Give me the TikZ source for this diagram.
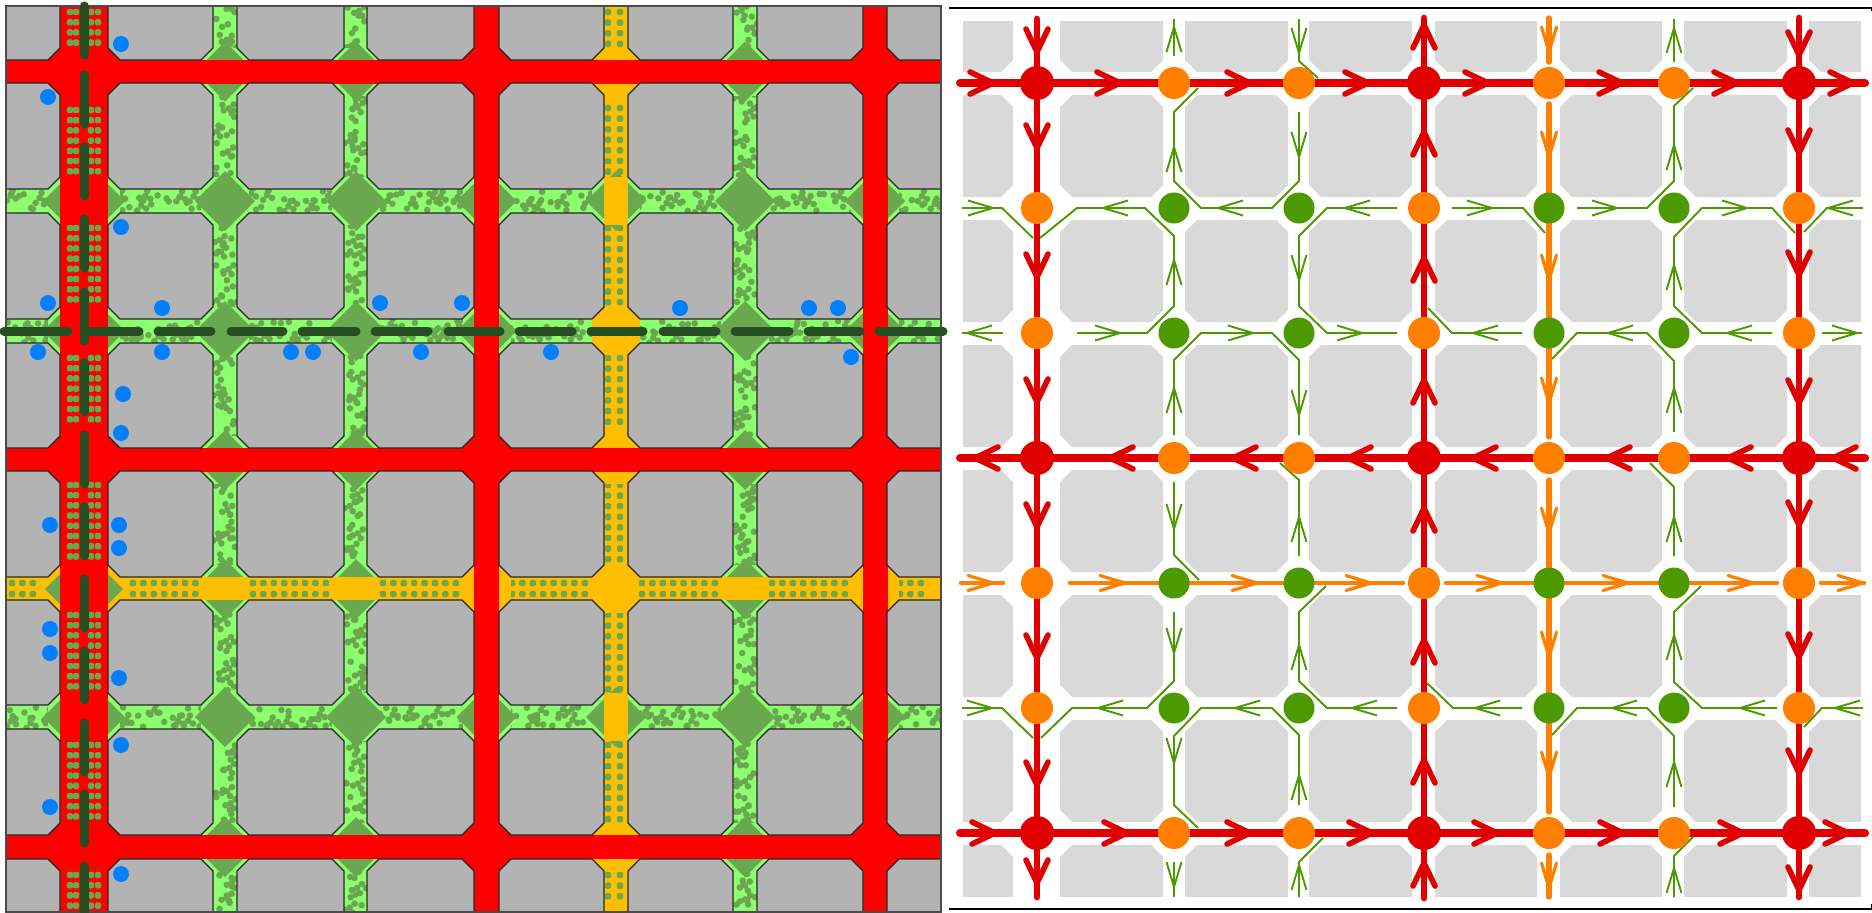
\documentclass[tikz,border=0pt]{standalone}
\usetikzlibrary{backgrounds}
\pgfdeclarelayer{back}
\pgfdeclarelayer{conn}
\pgfsetlayers{back,conn,main}
\definecolor{lgreen}{HTML}{8CFF6E}
\definecolor{dgreen}{HTML}{6AA84F}
\definecolor{dashg}{HTML}{274E23}
\definecolor{yroad}{HTML}{FFBF00}
\definecolor{blockA}{HTML}{B3B3B3}
\definecolor{blockB}{HTML}{D9D9D9}
\definecolor{bluept}{HTML}{0080FF}
\definecolor{cred}{HTML}{E00000}
\definecolor{corange}{HTML}{FF8000}
\definecolor{cgreen}{HTML}{4C9900}
\tikzset{
  redlineH/.style={draw=cred,line width=8pt,line cap=round,line join=round},
  redlineV/.style={draw=cred,line width=6.8pt,line cap=round,line join=round},
  redbarb/.style={draw=cred,line width=5.6pt,line cap=round,line join=round},
  orangeV/.style={draw=corange,line width=5.4pt,line cap=round,line join=round},
  orangeH/.style={draw=corange,line width=4.6pt,line cap=round,line join=round},
  orangebarb/.style={draw=corange,line width=3.2pt,line cap=round,line join=round},
  gline/.style={draw=cgreen,line width=1.9pt,line join=miter},
  rednode/.style={circle,fill=cred,minimum size=34pt,inner sep=0pt,outer sep=0pt},
  orangenode/.style={circle,fill=corange,minimum size=32pt,inner sep=0pt,outer sep=0pt},
  greennode/.style={circle,fill=cgreen,minimum size=31pt,inner sep=0pt,outer sep=0pt},
  dashline/.style={draw=dashg,line width=9pt,line cap=round},
  blockleft/.style={fill=blockA,draw=black!85,line width=1.2pt,line join=miter},
}
\newcommand\tipr[3]{\draw[redbarb,shift={(#1,#2)},rotate=#3] (-23pt,11pt)--(0pt,0pt)--(-23pt,-11pt);}
\newcommand\tipo[3]{\draw[orangebarb,shift={(#1,#2)},rotate=#3] (-25pt,7.5pt)--(0pt,0pt)--(-25pt,-7.5pt);}
\newcommand\tipg[3]{\draw[gline,shift={(#1,#2)},rotate=#3] (-25pt,7.5pt)--(0pt,0pt)--(-25pt,-7.5pt);}
\newcommand\gflow[4]{\coordinate (#1a) at #2; \coordinate (#1b) at #4; \draw[gline] (#1a) #3 -- (#1b);}
\newcommand\oseg[4]{\coordinate (#2a) at #3; \coordinate (#2b) at #4; \draw[#1] (#2a) -- (#2b);}
\newcommand\sq[2]{\fill[dgreen,rounded corners=1.6pt] ({#1-3.2},{#2-3.2}) rectangle ({#1+3.2},{#2+3.2});}
\newcommand\blobsH[1]{% road along x at y=#1
  \foreach \i in {1,...,140}{\pgfmathsetmacro\pa{6+6.7*(\i-1+rnd)}\pgfmathsetmacro\pb{#1-10+20*rnd}\fill[dgreen] (\pa,\pb) circle[radius=3.3pt];}
  \foreach \i in {1,...,48}{\pgfmathsetmacro\pa{6+19.5*(\i-1+rnd)}\pgfmathsetmacro\pb{#1-8+16*rnd}
    \fill[dgreen] (\pa,\pb) circle[radius=3.3pt] (\pa+5,\pb+3) circle[radius=3.3pt] (\pa-4,\pb+5) circle[radius=3.3pt] (\pa+2,\pb-5) circle[radius=3.3pt];}
}
\newcommand\blobsV[1]{% road along y at x=#1
  \foreach \i in {1,...,135}{\pgfmathsetmacro\pa{6+6.7*(\i-1+rnd)}\pgfmathsetmacro\pb{#1-10+20*rnd}\fill[dgreen] (\pb,\pa) circle[radius=3.3pt];}
  \foreach \i in {1,...,46}{\pgfmathsetmacro\pa{6+19.7*(\i-1+rnd)}\pgfmathsetmacro\pb{#1-8+16*rnd}
    \fill[dgreen] (\pb,\pa) circle[radius=3.3pt] (\pb+3,\pa+5) circle[radius=3.3pt] (\pb+5,\pa-4) circle[radius=3.3pt] (\pb-5,\pa+2) circle[radius=3.3pt];}
}
\newcommand\diam[3]{\fill[dgreen] (#1-#3,#2)--(#1,#2-#3)--(#1+#3,#2)--(#1,#2+#3)--cycle;}
\begin{document}
\begin{tikzpicture}[x=1pt,y=-1pt]
\useasboundingbox (0,0) rectangle (1872,913);
% ===== left panel =====
\begin{pgfonlayer}{back}
\fill[white] (0,0) rectangle (1872,913);
\begin{scope}
\clip (6,6) rectangle (941,912);
\fill[lgreen] (6,6) rectangle (941,912);
\pgfmathsetseed{4711}
\foreach \yy in {201,331,717}{\blobsH{\yy}}
\foreach \xx in {225,356,745}{\blobsV{\xx}}
% yellow roads
\fill[yroad] (604,6) rectangle (628,912);
\foreach \xx in {608,620}{
 \foreach \s/\n in {12/4,108/7,228/8,358/7,485/8,615/8,745/8,875/3}{
  \foreach \k in {1,...,\n}{\sq{\xx}{\s+(\k-1)*10.6}}}}
% yellow octagons
\foreach \yy in {71.5,331,460,589,847}{\fill[yroad] (592,\yy-24) rectangle (640,\yy+24);}
% light clearing + diamonds
\foreach \xx in {225,356,745}{\foreach \yy in {71.5,201,331,460,589,717,847}{
  \fill[lgreen] (\xx-24,\yy-24) rectangle (\xx+24,\yy+24);\diam{\xx}{\yy}{30}}}
\foreach \xx in {486.5,875}{\foreach \yy in {201,331,717}{
  \fill[lgreen] (\xx-24,\yy-24) rectangle (\xx+24,\yy+24);\diam{\xx}{\yy}{30}}}
\foreach \yy in {201,331,717}{
  \fill[lgreen] (48,\yy-24) rectangle (120,\yy+24);\diam{84}{\yy}{41}}
\foreach \yy in {201,717}{
  \fill[lgreen] (592,\yy-24) rectangle (640,\yy+24);\diam{616}{\yy}{30}
  \fill[yroad] (604,\yy-24) rectangle (628,\yy+24);}
% horizontal yellow road
\fill[yroad] (6,577) rectangle (941,600);
\foreach \yy in {583,594}{
 \foreach \s/\n in {12/3,133/7,253/8,383/8,512/8,642/8,772/8,900/3}{
  \foreach \k in {1,...,\n}{\sq{\s+(\k-1)*10.4}{\yy}}}}
\foreach \xx in {486.5,875}{\fill[yroad] (\xx-24,565) rectangle (\xx+24,613);}
\fill[yroad] (48,565) rectangle (120,613);\diam{84}{589}{39}
% red roads
\foreach \yy in {60,448,835}{\fill[red] (6,\yy) rectangle (941,\yy+24);}
\foreach \xx in {474,863}{\fill[red] (\xx,6) rectangle (\xx+25,912);}
\fill[red] (60,6) rectangle (108,912);
\foreach \xx/\ww in {48/72,462/48,851/48}{\foreach \yy in {47.5,436,823}{
  \fill[red] (\xx,\yy) rectangle (\xx+\ww,\yy+48);}}
\foreach \xx in {70,76,91,98}{
 \foreach \s/\n in {12/4,110/7,228/8,358/7,485/8,615/8,745/8,875/4}{
  \foreach \k in {1,...,\n}{\sq{\xx}{\s+(\k-1)*10.2}}}}
% blocks
\foreach \xa/\xb in {-30/60,108/213,237/344,367/474,499/604,628/733,757/863,887/980}{
 \foreach \ya/\yb in {-30/60,83/189,213/319,343/448,471/577,600/705,729/835,859/950}{
  \draw[blockleft] ({\xa+12},\ya)--({\xb-12},\ya)--(\xb,{\ya+12})--(\xb,{\yb-12})--({\xb-12},\yb)--({\xa+12},\yb)--(\xa,{\yb-12})--(\xa,{\ya+12})--cycle;}}
\end{scope}
\draw[draw=black!70,line width=2pt] (6,6) rectangle (941,912);
% dashed dark green lines
\foreach \s in {2,71,143,215,288,359,431,503,575,647,719,790,862}{
  \draw[dashline] (84,\s+4) -- (84,\s+53);}
\foreach \a/\b in {2/70,87/141,156/213,229/285,300/358,373/430,446/502,517/574,589/645,661/718,733/791,806/862,877/945}{
  \draw[dashline] (\a+2,331) -- (\b-2,331);}
% blue points
\foreach \px/\py in {121/44,48/97,121/227,48/303,162/308,380/303,462/303,38/352,162/352,291/352,313/352,421/352,123/394,680/308,809/308,838/308,551/352,851/357,121/433,50/525,119/525,119/548,50/629,50/653,119/678,121/745,50/807,121/874}{
  \fill[bluept] (\px,\py) circle[radius=8pt];}
% ===== right panel blocks =====
\begin{scope}
\clip (963,21) rectangle (1861,896);
\foreach \xa/\xb in {930/1013,1060/1163,1185/1288,1309/1412,1435/1537,1560/1662,1684/1787,1809/1900}{
 \foreach \ya/\yb in {-10/72,95/197,220/322,345/447,470/572,595/697,720/822,845/930}{
  \fill[blockB] ({\xa+12},\ya)--({\xb-12},\ya)--(\xb,{\ya+12})--(\xb,{\yb-12})--({\xb-12},\yb)--({\xa+12},\yb)--(\xa,{\yb-12})--(\xa,{\ya+12})--cycle;}}
\end{scope}
\end{pgfonlayer}
% frame rules
\draw[black,line width=1.3pt] (949,8) -- (1872,8);
\draw[black,line width=1.3pt] (949,909) -- (1872,909);
\draw[black,line width=1pt] (1871.5,8) -- (1871.5,11);
\draw[black,line width=1pt] (1871.5,904) -- (1871.5,909);
% ===== right panel nodes =====
\foreach \c/\x in {1/1037,4/1424,7/1799}{\foreach \r/\y in {1/83,4/458,7/833}{
  \node[rednode] (n\r\c) at (\x,\y) {};}}
\foreach \c/\x in {2/1174,3/1299,5/1549,6/1674}{\foreach \r/\y in {2/208,3/333,5/583,6/708}{
  \node[greennode] (n\r\c) at (\x,\y) {};}}
\foreach \c/\x in {1/1037,4/1424,7/1799}{\foreach \r/\y in {2/208,3/333,5/583,6/708}{
  \node[orangenode] (n\r\c) at (\x,\y) {};}}
\foreach \c/\x in {2/1174,3/1299,5/1549,6/1674}{\foreach \r/\y in {1/83,4/458,7/833}{
  \node[orangenode] (n\r\c) at (\x,\y) {};}}
\begin{pgfonlayer}{conn}
% green flows
\gflow{fa}{(1299,112)}{-- (1299,181) -- (1272,208) -- (1201,208) -- (1174,181) -- (1174,112)}{(1198,88)}
\gflow{fb}{(1299,19)}{-- (1299,61)}{(1318,78)}
\gflow{fc}{(1397,208)}{-- (1327,208) -- (1299,236) -- (1299,306) -- (1327,333)}{(1397,333)}
\gflow{fd}{(1077,333)}{-- (1147,333) -- (1174,306) -- (1174,236) -- (1145,208) -- (1077,208)}{(1040,238)}
\gflow{fe}{(1174,435)}{-- (1174,360) -- (1201,333) -- (1272,333) -- (1299,360)}{(1299,435)}
\gflow{ff}{(1452,208)}{-- (1523,208)}{(1545,233)}
\gflow{fg}{(1577,208)}{-- (1647,208) -- (1674,181) -- (1674,106)}{(1693,88)}
\gflow{fh}{(1772,333)}{-- (1702,333) -- (1674,306) -- (1674,237) -- (1702,208) -- (1772,208)}{(1795,233)}
\gflow{fi}{(1522,333)}{-- (1452,333)}{(1428,308)}
\gflow{fj}{(1674,432)}{-- (1674,361) -- (1647,333) -- (1577,333)}{(1552,359)}
\gflow{fk}{(1674,807)}{-- (1674,736) -- (1647,708) -- (1577,708)}{(1552,735)}
\gflow{fl}{(1777,708)}{-- (1702,708) -- (1674,682) -- (1674,612)}{(1701,586)}
\gflow{fm}{(1522,708)}{-- (1453,708)}{(1427,683)}
\gflow{fn}{(1863,708)}{-- (1822,708)}{(1804,727)}
\gflow{fo}{(1674,897)}{-- (1674,856)}{(1693,837)}
\gflow{fp}{(1299,556)}{-- (1299,480)}{(1280,463)}
\gflow{fq}{(1174,482)}{-- (1174,555)}{(1199,580)}
\gflow{fr}{(1674,556)}{-- (1674,487)}{(1650,463)}
\gflow{fs}{(1174,612)}{-- (1174,681) -- (1147,708) -- (1072,708)}{(1041,738)}
\gflow{ft}{(1299,805)}{-- (1299,735) -- (1272,708) -- (1201,708) -- (1174,736) -- (1174,805)}{(1198,828)}
\gflow{fu}{(1397,708)}{-- (1327,708) -- (1299,681) -- (1299,612)}{(1326,586)}
\gflow{fv}{(1299,897)}{-- (1299,862)}{(1323,838)}
\gflow{fw}{(962,208)}{-- (1002,208)}{(1033,238)}
\gflow{fx}{(962,708)}{-- (1002,708)}{(1033,738)}
\gflow{fy}{(1863,208)}{-- (1827,208)}{(1804,232)}
\coordinate (s1a) at (1174,56); \coordinate (s1b) at (1174,19); \draw[gline] (s1a) -- (s1b);
\coordinate (s2a) at (1003,333); \coordinate (s2b) at (962,333); \draw[gline] (s2a) -- (s2b);
\coordinate (s3a) at (1674,62); \coordinate (s3b) at (1674,19); \draw[gline] (s3a) -- (s3b);
\coordinate (s4a) at (1822,333); \coordinate (s4b) at (1862,333); \draw[gline] (s4a) -- (s4b);
\coordinate (s5a) at (1174,862); \coordinate (s5b) at (1174,897); \draw[gline] (s5a) -- (s5b);
% green arrow tips
\foreach \x/\y/\a in {1299/157/-90,1218/208/180,1174/147/90,1299/53/-90,1174/27/90,1345/208/180,1299/280/-90,1362/333/0,1120/333/0,1174/260/90,1103/208/180,993/208/0,967/333/180,1174/388/90,1253/333/0,1299/415/-90,1674/28/90,1492/208/0,1617/208/0,1674/145/90,1674/265/90,1747/208/0,1828/208/180,1473/333/180,1674/388/90,1608/333/180,1727/333/180,1857/333/0,1674/762/90,1612/708/180,1740/708/180,1674/635/90,1475/708/180,1835/708/180,1674/868/90,1299/517/90,1174/529/-90,1674/517/90,1174/653/-90,1098/708/180,992/708/0,1299/775/90,1235/708/180,1174/763/-90,1352/708/180,1299/645/90,1174/887/-90,1299/865/90}{\tipg{\x}{\y}{\a}}
% orange
\oseg{orangeV}{oa}{(1549,18)}{(1549,62)}
\coordinate (ob) at (1549,104); \draw[orangeV] (ob) -- (n25.center) -- (n35.center) -- (1549,437) coordinate (oc);
\coordinate (od) at (1549,480); \draw[orangeV] (od) -- (n55.center) -- (n65.center) -- (1549,812) coordinate (oe);
\oseg{orangeV}{of}{(1549,855)}{(1549,897)}
\oseg{orangeH}{og}{(961,583)}{(1003,583)}
\coordinate (oh) at (1070,583); \draw[orangeH] (oh) -- (n52.center) -- (n53.center) -- (1403,583) coordinate (oi);
\coordinate (oj) at (1446,583); \draw[orangeH] (oj) -- (n55.center) -- (n56.center) -- (1777,583) coordinate (ok);
\oseg{orangeH}{ol}{(1821,583)}{(1864,583)}
\foreach \t in {52,157,280,403,533,657,777,888}{\tipo{1549}{\t}{-90}}
\foreach \t in {993,1125,1257,1371,1502,1628,1753,1863}{\tipo{\t}{583}{0}}
% red
\coordinate (r1a) at (960,83); \coordinate (r1b) at (1865,83);
\draw[redlineH] (r1a) -- (n11.center) -- (n12.center) -- (n13.center) -- (n14.center) -- (n15.center) -- (n16.center) -- (n17.center) -- (r1b);
\coordinate (r4a) at (1865,458); \coordinate (r4b) at (960,458);
\draw[redlineH] (r4a) -- (n47.center) -- (n46.center) -- (n45.center) -- (n44.center) -- (n43.center) -- (n42.center) -- (n41.center) -- (r4b);
\coordinate (r7a) at (960,833); \coordinate (r7b) at (1865,833);
\draw[redlineH] (r7a) -- (n71.center) -- (n72.center) -- (n73.center) -- (n74.center) -- (n75.center) -- (n76.center) -- (n77.center) -- (r7b);
\coordinate (v1a) at (1037,19); \coordinate (v1b) at (1037,897);
\draw[redlineV] (v1a) -- (n11.center) -- (n21.center) -- (n31.center) -- (n41.center) -- (n51.center) -- (n61.center) -- (n71.center) -- (v1b);
\coordinate (v4a) at (1424,898); \coordinate (v4b) at (1424,18);
\draw[redlineV] (v4a) -- (n74.center) -- (n64.center) -- (n54.center) -- (n44.center) -- (n34.center) -- (n24.center) -- (n14.center) -- (v4b);
\coordinate (v7a) at (1799,18); \coordinate (v7b) at (1799,897);
\draw[redlineV] (v7a) -- (n17.center) -- (n27.center) -- (n37.center) -- (n47.center) -- (n57.center) -- (n67.center) -- (n77.center) -- (v7b);
\foreach \t in {993,1120,1250,1368,1488,1622,1737,1853}{\tipr{\t}{83}{0}}
\foreach \t in {975,1110,1233,1348,1473,1607,1728,1833}{\tipr{\t}{458}{180}}
\foreach \t in {995,1127,1250,1372,1497,1623,1743,1848}{\tipr{\t}{833}{0}}
\foreach \t in {52,148,277,402,527,658,785,883}{\tipr{1037}{\t}{-90}}
\foreach \t in {25,132,258,380,508,640,760,863}{\tipr{1424}{\t}{90}}
\foreach \t in {55,153,275,403,525,657,773,890}{\tipr{1799}{\t}{-90}}
\end{pgfonlayer}
\end{tikzpicture}
\end{document}
